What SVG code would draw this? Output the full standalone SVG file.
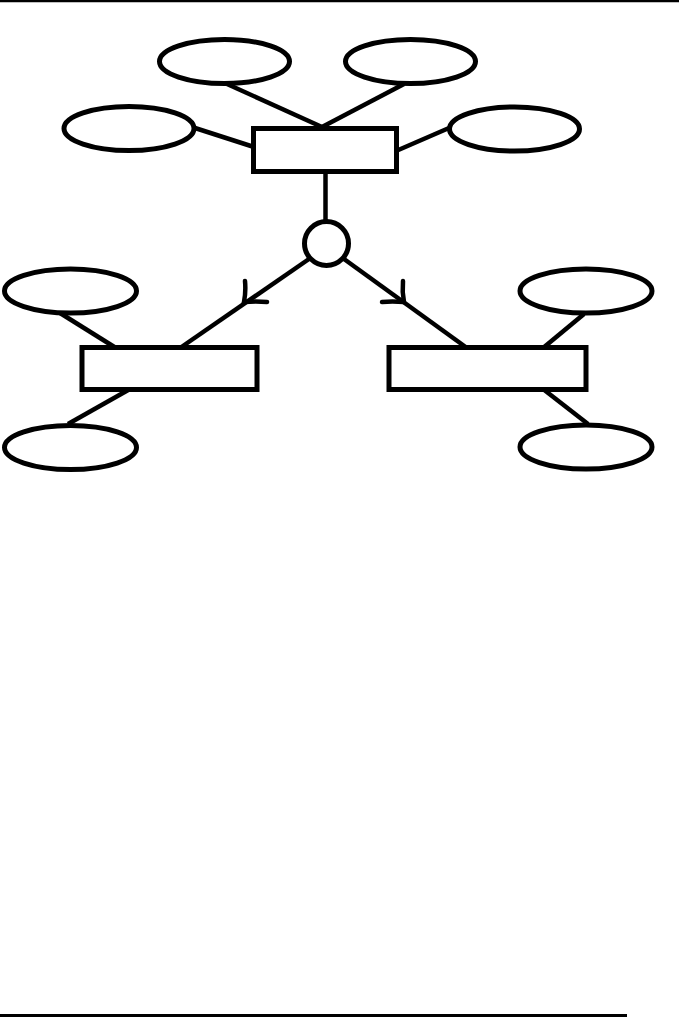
<svg xmlns="http://www.w3.org/2000/svg" width="679" height="1018" viewBox="0 0 679 1018">
<style>
.s{fill:#fff;stroke:#000;stroke-width:5}
.c{fill:none;stroke:#000;stroke-width:4.5;stroke-linecap:butt}
.h{fill:none;stroke:#000;stroke-width:4.5;stroke-linecap:round}
</style>
<rect width="679" height="1018" fill="#fff"/>
<line x1="0" y1="1" x2="679" y2="1" stroke="#000" stroke-width="2.5"/>
<line x1="0" y1="1015.5" x2="627" y2="1015.5" stroke="#000" stroke-width="3"/>
<g id="connectors">
<line class="c" x1="227" y1="84" x2="322" y2="127"/>
<line class="c" x1="404" y1="84" x2="322" y2="127"/>
<line class="c" x1="195" y1="128" x2="254" y2="147"/>
<line class="c" x1="396" y1="151" x2="449" y2="128"/>
<line class="c" x1="325.5" y1="171" x2="325.5" y2="221"/>
<line class="c" x1="309" y1="259" x2="180" y2="348"/>
<line class="c" x1="344" y1="259" x2="467" y2="348"/>
<path class="h" d="M245,281 Q246,292 244,302 Q256,301 267,302"/>
<path class="h" d="M403,281 Q402,292 404,302 Q392,301 382,302"/>
<line class="c" x1="60" y1="313" x2="116" y2="348"/>
<line class="c" x1="68" y1="424" x2="130" y2="389"/>
<line class="c" x1="584" y1="314" x2="543" y2="348"/>
<line class="c" x1="543" y1="389" x2="588" y2="424"/>
</g>
<g id="e-top1"><ellipse class="s" cx="224.5" cy="61.5" rx="65" ry="22"/></g>
<g id="e-top2"><ellipse class="s" cx="410.5" cy="61.5" rx="65" ry="22"/></g>
<g id="e-left"><ellipse class="s" cx="129" cy="128.5" rx="65" ry="22"/></g>
<g id="e-right"><ellipse class="s" cx="514.5" cy="129" rx="65" ry="22"/></g>
<g id="entity-top"><rect class="s" x="253.5" y="128.5" width="143" height="43"/></g>
<g id="circle"><circle class="s" cx="326.5" cy="243.5" r="22"/></g>
<g id="e-bl1"><ellipse class="s" cx="70.5" cy="291" rx="66" ry="22"/></g>
<g id="e-bl2"><ellipse class="s" cx="70.5" cy="447.5" rx="66" ry="22"/></g>
<g id="e-br1"><ellipse class="s" cx="586" cy="291" rx="66" ry="22"/></g>
<g id="e-br2"><ellipse class="s" cx="586" cy="447" rx="66" ry="22"/></g>
<g id="entity-left"><rect class="s" x="82" y="347.5" width="175" height="42"/></g>
<g id="entity-right"><rect class="s" x="389" y="347.5" width="197" height="42"/></g>
</svg>
